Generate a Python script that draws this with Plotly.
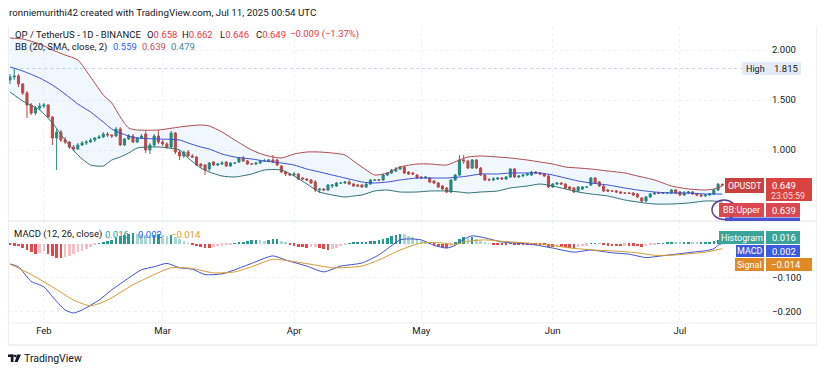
import pandas as pd
import plotly.graph_objects as go

# ---------------- data ----------------
day0 = pd.Timestamp("2025-01-24")
dates = pd.date_range(day0, periods=169, freq="D")

opens = [
    1.70, 1.73, 1.74, 1.66, 1.57, 1.45, 1.37, 1.42, 1.44, 1.45,
    1.33, 1.12, 1.18, 1.10, 1.08, 1.03, 1.01, 1.05, 1.07, 1.08,
    1.10, 1.12, 1.13, 1.16, 1.15, 1.14, 1.21, 1.05, 1.11, 1.14,
    1.08, 1.12, 1.16, 1.00, 1.05, 1.14, 1.08, 1.06, 1.03, 1.17,
    0.98, 0.94, 0.98, 0.94, 0.93, 0.86, 0.85, 0.81, 0.88, 0.85,
    0.86, 0.88, 0.84, 0.87, 0.88, 0.92, 0.89, 0.86, 0.86, 0.87,
    0.89, 0.89, 0.90, 0.90, 0.84, 0.78, 0.76, 0.75, 0.76, 0.72,
    0.71, 0.70, 0.68, 0.60, 0.61, 0.60, 0.64, 0.64, 0.67, 0.67,
    0.68, 0.66, 0.65, 0.65, 0.63, 0.66, 0.70, 0.705, 0.70, 0.75,
    0.77, 0.79, 0.81, 0.83, 0.78, 0.77, 0.75, 0.73, 0.72, 0.72,
    0.69, 0.67, 0.64, 0.62, 0.58, 0.70, 0.75, 0.90, 0.89, 0.82,
    0.90, 0.82, 0.75, 0.70, 0.70, 0.71, 0.72, 0.71, 0.73, 0.81,
    0.73, 0.74, 0.75, 0.75, 0.78, 0.77, 0.76, 0.74, 0.63, 0.66,
    0.67, 0.66, 0.63, 0.62, 0.59, 0.61, 0.63, 0.65, 0.72, 0.68,
    0.64, 0.60, 0.59, 0.59, 0.58, 0.57, 0.57, 0.57, 0.56, 0.52,
    0.49, 0.53, 0.56, 0.57, 0.565, 0.57, 0.57, 0.60, 0.58, 0.55,
    0.57, 0.58, 0.56, 0.55, 0.54, 0.55, 0.56, 0.60, 0.658,
]
highs = [
    1.76, 1.815, 1.76, 1.67, 1.59, 1.47, 1.44, 1.47, 1.47, 1.46,
    1.34, 1.21, 1.20, 1.13, 1.09, 1.05, 1.07, 1.09, 1.10, 1.12,
    1.13, 1.15, 1.18, 1.18, 1.16, 1.23, 1.23, 1.12, 1.16, 1.16,
    1.13, 1.16, 1.19, 1.07, 1.16, 1.20, 1.10, 1.08, 1.19, 1.18,
    1.00, 0.99, 1.00, 0.96, 0.94, 0.87, 0.86, 0.88, 0.89, 0.87,
    0.89, 0.89, 0.88, 0.88, 0.93, 0.94, 0.90, 0.87, 0.88, 0.90,
    0.91, 0.91, 0.95, 0.91, 0.85, 0.79, 0.77, 0.78, 0.77, 0.73,
    0.72, 0.71, 0.70, 0.62, 0.62, 0.66, 0.66, 0.68, 0.68, 0.69,
    0.70, 0.67, 0.66, 0.66, 0.67, 0.71, 0.71, 0.71, 0.76, 0.78,
    0.81, 0.83, 0.84, 0.84, 0.79, 0.78, 0.76, 0.74, 0.74, 0.73,
    0.70, 0.68, 0.65, 0.63, 0.71, 0.76, 0.95, 0.95, 0.90, 0.91,
    0.91, 0.83, 0.76, 0.72, 0.73, 0.73, 0.73, 0.74, 0.82, 0.82,
    0.75, 0.76, 0.77, 0.79, 0.79, 0.78, 0.77, 0.75, 0.67, 0.68,
    0.68, 0.67, 0.64, 0.63, 0.64, 0.64, 0.64, 0.73, 0.73, 0.69,
    0.65, 0.61, 0.60, 0.60, 0.59, 0.58, 0.58, 0.58, 0.57, 0.53,
    0.54, 0.57, 0.58, 0.58, 0.58, 0.58, 0.61, 0.61, 0.59, 0.59,
    0.59, 0.59, 0.57, 0.56, 0.56, 0.57, 0.61, 0.67, 0.662,
]
lows = [
    1.66, 1.70, 1.63, 1.55, 1.32, 1.35, 1.35, 1.40, 1.42, 1.32,
    1.05, 0.80, 1.08, 1.06, 1.01, 0.99, 1.00, 1.04, 1.05, 1.07,
    1.08, 1.11, 1.12, 1.13, 1.12, 1.13, 1.04, 1.04, 1.10, 1.07,
    1.07, 1.11, 0.97, 0.96, 1.03, 1.06, 1.04, 1.01, 1.01, 0.96,
    0.90, 0.92, 0.93, 0.92, 0.84, 0.82, 0.75, 0.79, 0.84, 0.84,
    0.85, 0.83, 0.83, 0.86, 0.87, 0.88, 0.85, 0.85, 0.85, 0.86,
    0.88, 0.88, 0.87, 0.84, 0.77, 0.74, 0.74, 0.74, 0.70, 0.70,
    0.69, 0.66, 0.58, 0.57, 0.59, 0.59, 0.62, 0.63, 0.66, 0.66,
    0.65, 0.63, 0.63, 0.62, 0.62, 0.65, 0.69, 0.69, 0.69, 0.74,
    0.76, 0.78, 0.80, 0.76, 0.75, 0.75, 0.71, 0.71, 0.71, 0.67,
    0.66, 0.62, 0.60, 0.57, 0.57, 0.69, 0.74, 0.86, 0.81, 0.81,
    0.81, 0.74, 0.69, 0.69, 0.69, 0.70, 0.70, 0.70, 0.72, 0.72,
    0.72, 0.73, 0.74, 0.74, 0.76, 0.75, 0.73, 0.62, 0.62, 0.65,
    0.65, 0.61, 0.60, 0.57, 0.58, 0.60, 0.62, 0.64, 0.66, 0.63,
    0.58, 0.58, 0.58, 0.57, 0.56, 0.56, 0.56, 0.54, 0.52, 0.48,
    0.48, 0.52, 0.55, 0.56, 0.56, 0.56, 0.56, 0.56, 0.54, 0.54,
    0.56, 0.55, 0.54, 0.535, 0.535, 0.54, 0.55, 0.59, 0.646,
]
closes = [
    1.73, 1.74, 1.66, 1.57, 1.45, 1.37, 1.42, 1.44, 1.45, 1.33,
    1.12, 1.18, 1.10, 1.08, 1.03, 1.01, 1.05, 1.07, 1.08, 1.10,
    1.12, 1.13, 1.16, 1.15, 1.14, 1.21, 1.05, 1.11, 1.14, 1.08,
    1.12, 1.14, 1.00, 1.05, 1.14, 1.08, 1.06, 1.03, 1.17, 0.98,
    0.94, 0.98, 0.94, 0.93, 0.85, 0.84, 0.80, 0.87, 0.85, 0.86,
    0.87, 0.84, 0.87, 0.87, 0.92, 0.89, 0.86, 0.86, 0.87, 0.89,
    0.89, 0.90, 0.88, 0.85, 0.78, 0.76, 0.75, 0.76, 0.71, 0.71,
    0.70, 0.67, 0.60, 0.61, 0.60, 0.65, 0.65, 0.67, 0.67, 0.68,
    0.66, 0.64, 0.64, 0.63, 0.66, 0.70, 0.70, 0.70, 0.75, 0.77,
    0.80, 0.81, 0.83, 0.77, 0.76, 0.76, 0.72, 0.72, 0.73, 0.68,
    0.67, 0.63, 0.61, 0.58, 0.70, 0.75, 0.90, 0.89, 0.82, 0.90,
    0.82, 0.75, 0.70, 0.70, 0.71, 0.72, 0.71, 0.73, 0.81, 0.73,
    0.74, 0.75, 0.76, 0.78, 0.77, 0.76, 0.74, 0.63, 0.66, 0.67,
    0.66, 0.62, 0.61, 0.58, 0.63, 0.63, 0.63, 0.72, 0.67, 0.64,
    0.59, 0.59, 0.59, 0.58, 0.57, 0.57, 0.565, 0.55, 0.53, 0.49,
    0.53, 0.56, 0.57, 0.565, 0.57, 0.572, 0.60, 0.57, 0.55, 0.57,
    0.58, 0.56, 0.55, 0.54, 0.55, 0.56, 0.60, 0.658, 0.649,
]

# Bollinger Bands (20, SMA, 2), read at sample days (index into dates)
bb_days = [0, 3, 7, 10, 13, 16, 19, 22, 24, 26, 28, 30, 35, 40, 42, 45, 47, 50, 53, 57,
           60, 64, 67, 70, 73, 76, 79, 81, 83, 86, 89, 92, 96, 99, 103, 106, 108, 111, 115, 118,
           122, 125, 128, 131, 134, 137, 141, 145, 148, 152, 156, 160, 164, 166, 168]
bb_upper = [2.12, 2.11, 2.06, 2.00, 1.95, 1.90, 1.73, 1.55, 1.47, 1.33, 1.22, 1.20, 1.20, 1.23, 1.24, 1.25, 1.24, 1.18, 1.10, 1.00,
            0.95, 0.92, 0.96, 0.98, 0.98, 0.97, 0.95, 0.89, 0.83, 0.75, 0.77, 0.83, 0.86, 0.86, 0.85, 0.90, 0.93, 0.94, 0.93, 0.92,
            0.90, 0.88, 0.86, 0.83, 0.82, 0.81, 0.79, 0.77, 0.74, 0.70, 0.64, 0.61, 0.60, 0.61, 0.639]
bb_basis = [1.83, 1.79, 1.72, 1.65, 1.56, 1.46, 1.38, 1.28, 1.21, 1.17, 1.14, 1.12, 1.11, 1.10, 1.07, 1.03, 1.01, 0.96, 0.93, 0.91,
            0.89, 0.87, 0.85, 0.81, 0.78, 0.75, 0.72, 0.70, 0.68, 0.67, 0.68, 0.70, 0.72, 0.72, 0.72, 0.73, 0.74, 0.76, 0.76, 0.77,
            0.77, 0.77, 0.75, 0.72, 0.69, 0.67, 0.65, 0.62, 0.60, 0.58, 0.57, 0.57, 0.56, 0.56, 0.559]
bb_lower = [1.58, 1.49, 1.40, 1.27, 1.10, 0.95, 0.85, 0.84, 0.90, 0.93, 0.97, 1.02, 1.03, 1.00, 0.92, 0.82, 0.78, 0.74, 0.73, 0.76,
            0.80, 0.80, 0.74, 0.66, 0.58, 0.55, 0.53, 0.54, 0.55, 0.59, 0.60, 0.58, 0.58, 0.59, 0.59, 0.58, 0.57, 0.58, 0.59, 0.62,
            0.64, 0.66, 0.64, 0.61, 0.58, 0.56, 0.54, 0.50, 0.48, 0.46, 0.46, 0.47, 0.49, 0.49, 0.479]

# MACD (12, 26, close)
macd_days = [0, 2, 5, 8, 10, 13, 15, 17, 21, 24, 28, 31, 34, 37, 40, 43, 46, 50, 53, 57,
             62, 65, 70, 74, 78, 83, 87, 92, 94, 97, 100, 103, 105, 107, 109, 112, 116, 120, 124, 128,
             133, 137, 142, 146, 150, 153, 157, 161, 164, 166, 167, 168]
macd_vals = [-0.059, -0.067, -0.110, -0.126, -0.155, -0.194, -0.203, -0.194, -0.165, -0.135,
             -0.100, -0.076, -0.067, -0.057, -0.070, -0.074, -0.090, -0.088, -0.076, -0.057,
             -0.035, -0.047, -0.065, -0.082, -0.065, -0.056, -0.032, 0.012, 0.015, 0.012,
             -0.004, -0.012, -0.004, 0.014, 0.024, 0.018, 0.006, 0.002, -0.003, -0.012,
             -0.024, -0.018, -0.026, -0.030, -0.040, -0.036, -0.030, -0.024, -0.020, -0.014,
             -0.004, 0.002]
signal_days = [0, 5, 10, 15, 19, 23, 29, 34, 38, 43, 48, 53, 57, 62, 67, 72, 76, 83, 87, 92,
               97, 101, 105, 108, 112, 117, 122, 127, 133, 138, 143, 148, 152, 156, 160, 164, 168]
signal_vals = [-0.059, -0.090, -0.126, -0.165, -0.182, -0.165, -0.120, -0.090, -0.070, -0.072,
               -0.085, -0.082, -0.067, -0.045, -0.052, -0.062, -0.070, -0.065, -0.047, -0.018,
               0.003, 0.004, -0.001, 0.008, 0.012, 0.007, 0.003, -0.003, -0.013, -0.018,
               -0.021, -0.026, -0.033, -0.033, -0.029, -0.024, -0.014]
hist_vals = [
    -0.003, -0.005, -0.006, -0.012, -0.018, -0.024, -0.028, -0.026, -0.022, -0.028,
    -0.036, -0.040, -0.041, -0.038, -0.034, -0.030, -0.025, -0.020, -0.014, -0.008,
    -0.004, 0.001, 0.004, 0.008, 0.013, 0.018, 0.023, 0.027, 0.030, 0.031,
    0.030, 0.028, 0.025, 0.024, 0.026, 0.028, 0.027, 0.024, 0.025, 0.022,
    0.014, 0.008, 0.002, -0.004, -0.007, -0.010, -0.012, -0.013, -0.010, -0.007,
    -0.005, -0.003, -0.001, 0.001, 0.003, 0.006, 0.009, 0.012, 0.012, 0.011,
    0.010, 0.012, 0.014, 0.014, 0.009, 0.004, -0.002, -0.005, -0.008, -0.010,
    -0.011, -0.009, -0.008, -0.012, -0.015, -0.017, -0.016, -0.012, -0.007, -0.003,
    0.001, 0.003, 0.005, 0.005, 0.006, 0.008, 0.010, 0.011, 0.015, 0.019,
    0.023, 0.027, 0.030, 0.028, 0.024, 0.020, 0.015, 0.010, 0.006, 0.002,
    -0.003, -0.006, -0.009, -0.011, -0.005, 0.003, 0.014, 0.020, 0.019, 0.020,
    0.016, 0.010, 0.004, 0.001, -0.001, -0.002, -0.003, -0.003, 0.001, -0.001,
    -0.002, -0.002, -0.002, -0.001, -0.001, -0.002, -0.003, -0.008, -0.009, -0.008,
    -0.008, -0.010, -0.011, -0.012, -0.009, -0.007, -0.005, 0.001, 0.002, 0.001,
    -0.003, -0.005, -0.006, -0.006, -0.006, -0.005, -0.005, -0.005, -0.006, -0.008,
    -0.006, -0.003, -0.001, 0.001, 0.002, 0.003, 0.005, 0.004, 0.003, 0.004,
    0.005, 0.004, 0.003, 0.003, 0.004, 0.005, 0.008, 0.013, 0.016,
]

month_ticks = ["2025-02-01", "2025-03-01", "2025-04-01", "2025-05-01", "2025-06-01", "2025-07-01"]
month_labels = ["Feb", "Mar", "Apr", "May", "Jun", "Jul"]
price_ticks = [1.0, 1.5, 2.0]
price_tick_labels = ["1.000", "1.500", "2.000"]
macd_ticks = [-0.2, -0.1]
macd_tick_labels = ["\u22120.200", "\u22120.100"]

# ---------------- styling ----------------
# The page body adds an 8 px margin, so the figure is drawn 8 px smaller and
# all reference pixel coordinates are shifted by OFF.
OFF = 8
W_PX, H_PX = 825 - OFF, 372 - OFF
L, R, T, B = 8, 766, 27, 323          # plot area in reference pixels
PW, PH = R - L, B - T
FONT = "Roboto"
TXT = "#131722"
UP, DOWN = "#26897a", "#c4463f"
C_UPPER, C_BASIS, C_LOWER = "#b0484e", "#3a4fcf", "#2f6f74"
C_MACD, C_SIGNAL = "#3d50cc", "#d49a2e"
PX_PER_DAY = 4.24
X0_PX = 10  # reference pixel of first candle


def px(x):
    return (x - L) / PW


def py(y):
    return (B - y) / PH


def dd(idx):
    return [dates[i] for i in idx]


r0 = day0 + pd.Timedelta(days=(L - X0_PX) / PX_PER_DAY)
r1 = day0 + pd.Timedelta(days=(R - X0_PX) / PX_PER_DAY)

hist_colors = []
for i, h in enumerate(hist_vals):
    prev = hist_vals[i - 1] if i > 0 else h
    if h >= 0:
        hist_colors.append("#2a9a8e" if h >= prev else "#a8d8d2")
    else:
        hist_colors.append("#e8474a" if h <= prev else "#f6bec5")

fig = go.Figure()

fig.add_trace(go.Scatter(x=dd(bb_days), y=bb_lower, mode="lines",
                         line=dict(color=C_LOWER, width=1, shape="spline", smoothing=0.6),
                         hoverinfo="skip", xaxis="x", yaxis="y"))
fig.add_trace(go.Scatter(x=dd(bb_days), y=bb_upper, mode="lines",
                         line=dict(color=C_UPPER, width=1, shape="spline", smoothing=0.6),
                         fill="tonexty", fillcolor="rgba(33,150,243,0.065)",
                         hoverinfo="skip", xaxis="x", yaxis="y"))
fig.add_trace(go.Scatter(x=dd(bb_days), y=bb_basis, mode="lines",
                         line=dict(color=C_BASIS, width=1, shape="spline", smoothing=0.6),
                         hoverinfo="skip", xaxis="x", yaxis="y"))
fig.add_trace(go.Candlestick(x=dates, open=opens, high=highs, low=lows, close=closes,
                             increasing=dict(line=dict(color=UP, width=1), fillcolor=UP),
                             decreasing=dict(line=dict(color=DOWN, width=1), fillcolor=DOWN),
                             whiskerwidth=0, xaxis="x", yaxis="y"))

fig.add_trace(go.Bar(x=dates, y=hist_vals, marker=dict(color=hist_colors, line=dict(width=0)),
                     width=0.62 * 86400000, xaxis="x2", yaxis="y2", hoverinfo="skip"))
fig.add_trace(go.Scatter(x=dd(macd_days), y=macd_vals, mode="lines",
                         line=dict(color=C_MACD, width=1, shape="spline", smoothing=0.6),
                         xaxis="x2", yaxis="y2", hoverinfo="skip"))
fig.add_trace(go.Scatter(x=dd(signal_days), y=signal_vals, mode="lines",
                         line=dict(color=C_SIGNAL, width=1, shape="spline", smoothing=0.6),
                         xaxis="x2", yaxis="y2", hoverinfo="skip"))

grid = "#eef0f5"
split = py(221)

axis_common = dict(type="date", range=[r0, r1], tickvals=month_ticks, showgrid=True,
                   gridcolor=grid, griddash="dot", zeroline=False, showline=False, ticks="")

fig.update_layout(
    width=W_PX, height=H_PX,
    margin=dict(l=L - OFF, r=W_PX - (R - OFF), t=T - OFF, b=H_PX - (B - OFF)),
    paper_bgcolor="white", plot_bgcolor="white",
    showlegend=False, bargap=0,
    font=dict(family=FONT, color=TXT, size=9),
    xaxis=dict(axis_common, domain=[0, 1], anchor="y", showticklabels=False,
               rangeslider=dict(visible=False)),
    xaxis2=dict(axis_common, domain=[0, 1], anchor="y2", matches="x",
                ticktext=month_labels, showticklabels=True,
                tickfont=dict(size=9.5, color=TXT, family=FONT)),
    yaxis=dict(domain=[split, 1], range=[0.29, 2.23], side="right", tickvals=price_ticks,
               ticktext=price_tick_labels, showgrid=True, gridcolor=grid, griddash="dot",
               zeroline=False, ticks="", ticklabelstandoff=5,
               tickfont=dict(size=9.5, color=TXT, family=FONT)),
    yaxis2=dict(domain=[0, split], range=[-0.2324, 0.0676], side="right", tickvals=macd_ticks,
                ticktext=macd_tick_labels, showgrid=True, gridcolor=grid, griddash="dot",
                zeroline=False, ticks="", ticklabelstandoff=5,
                tickfont=dict(size=9.5, color=TXT, family=FONT)),
)

shapes = []


def rect(x0, y0, x1, y1, fill, line=None):
    shapes.append(dict(type="rect", xref="paper", yref="paper",
                       x0=px(x0), x1=px(x1), y0=py(y1), y1=py(y0),
                       fillcolor=fill, line=dict(width=0) if line is None else line,
                       layer="above"))


def hline(x0, x1, y, color="#e0e3eb", width=1, dash="solid"):
    shapes.append(dict(type="line", xref="paper", yref="paper", x0=px(x0), x1=px(x1),
                       y0=py(y), y1=py(y), line=dict(color=color, width=width, dash=dash),
                       layer="above"))


def vline(x, y0, y1, color="#e0e3eb", width=1):
    shapes.append(dict(type="line", xref="paper", yref="paper", x0=px(x), x1=px(x),
                       y0=py(y0), y1=py(y1), line=dict(color=color, width=width),
                       layer="above"))


# frame & separators
hline(L, 817, 221)
hline(L, 817, 323, color="#eceef3")
hline(L, 817, 345)
vline(817, 27, 345)
vline(L + 0.5, 27, 345, color="#eceef3")
# zero line of MACD pane
shapes.append(dict(type="line", xref="paper", yref="y2", x0=0, x1=1, y0=0, y1=0,
                   line=dict(color=grid, width=1, dash="dot"), layer="below"))
# High dotted line
shapes.append(dict(type="line", xref="x", yref="y", x0=dates[1], x1=r1, y0=1.815, y1=1.815,
                   line=dict(color="#c9d3e6", width=1, dash="dot"), layer="below"))

# purple circle drawing near BB:Upper label
shapes.append(dict(type="circle", xref="paper", yref="paper", x0=px(712), x1=px(736),
                   y0=py(219.5), y1=py(200), line=dict(color="#5c3f90", width=1.5), layer="above"))

# right side labels
rect(742, 62, 801, 75, "#e3ebf7")
rect(725, 178, 764, 193, "#c8413f")
rect(766, 178, 812, 201, "#d8423f")
rect(719, 203, 764, 217, "#dc4850")
rect(766, 203, 800, 217, "#dc4850")
rect(725, 217.5, 800, 221, "#4953d6")
rect(719, 231, 764, 244, "#3aa39a")
rect(766, 231, 800, 244, "#3aa39a")
rect(736, 245, 764, 257, "#3d5bdc")
rect(766, 245, 800, 257, "#3d5bdc")
rect(735, 258, 764, 271, "#e08a26")
rect(766, 258, 812, 271, "#e08a26")

# TradingView logo (simple glyph)
rect(8, 354.5, 13.5, 357, TXT)
rect(10.8, 354.5, 13.5, 362, TXT)
shapes.append(dict(type="circle", xref="paper", yref="paper", x0=px(14), x1=px(16.6),
                   y0=py(357.3), y1=py(354.7), fillcolor=TXT, line=dict(width=0), layer="above"))
shapes.append(dict(type="path", xref="paper", yref="paper", layer="above",
                   path=f"M {px(17.2)},{py(354.5)} L {px(21)},{py(354.5)} L {px(17.6)},{py(362)} "
                        f"L {px(14.6)},{py(362)} Z",
                   fillcolor=TXT, line=dict(width=0)))

fig.update_layout(shapes=shapes)

annotations = []


def ann(x, y, text, size=9.5, color=TXT, xanchor="left"):
    annotations.append(dict(xref="paper", yref="paper", x=px(x), y=py(y), text=text,
                            showarrow=False, xanchor=xanchor, yanchor="middle",
                            font=dict(size=size, color=color, family=FONT), borderpad=0))


RED = "#f23645"
ann(8, 12, "ronniemurithi42 created with TradingView.com, Jul 11, 2025 00:54 UTC", size=9.8)
ann(14, 34, "OP / TetherUS - 1D - BINANCE", size=9.5)
ann(146, 34, f"O<span style='color:{RED}'>0.658</span>")
ann(181, 34, f"H<span style='color:{RED}'>0.662</span>")
ann(219, 34, f"L<span style='color:{RED}'>0.646</span>")
ann(255, 34, f"C<span style='color:{RED}'>0.649</span>")
ann(289, 34, "\u22120.009 (\u22121.37%)", color=RED)
ann(14, 47, "BB (20, SMA, close, 2)")
ann(112, 47, "0.559", color="#2962ff")
ann(141, 47, "0.639", color="#c4515a")
ann(170, 47, "0.479", color="#3f8a94")
ann(13, 234, "MACD (12, 26, close)")
ann(104, 234, "0.016", color="#22a39a")
ann(137, 234, "0.002", color="#2962ff")
ann(170, 234, "\u22120.014", color="#e39b2f")

ann(745, 68.5, "High", size=9)
ann(773, 68.5, "1.815", size=9.5)
ann(744.5, 185.5, "OPUSDT", size=8.8, color="white", xanchor="center")
ann(771, 185, "0.649", size=9.5, color="white")
ann(770, 196, "23:05:59", size=8.8, color="#f9dede")
ann(741.5, 210, "BB:Upper", size=9, color="white", xanchor="center")
ann(771, 210, "0.639", size=9.5, color="white")
ann(741.5, 237.5, "Histogram", size=9, color="white", xanchor="center")
ann(771, 237.5, "0.016", size=9.5, color="white")
ann(750, 251, "MACD", size=9, color="white", xanchor="center")
ann(771, 251, "0.002", size=9.5, color="white")
ann(749.5, 264.5, "Signal", size=9, color="white", xanchor="center")
ann(770, 264.5, "\u22120.014", size=9.5, color="white")

ann(23, 358, "TradingView", size=10.5)

fig.update_layout(annotations=annotations)

fig.write_html("out.html", config={"displayModeBar": False})
